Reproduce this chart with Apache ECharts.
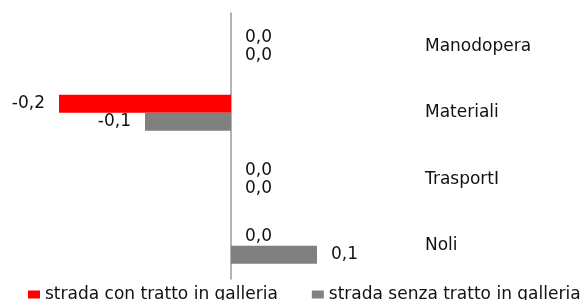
<!DOCTYPE html>
<html>
<head>
<meta charset="utf-8">
<script src="https://cdn.jsdelivr.net/npm/echarts@6/dist/echarts.min.js"></script>
<style>
  html, body { margin: 0; padding: 0; background: #fff; }
  #chart { width: 583px; height: 300px; }
</style>
</head>
<body>
<div id="chart"></div>
<script>
// categorie (dall'alto verso il basso)
const categories = ['Manodopera', 'Materiali', 'TrasportI', 'Noli'];
const seriesNames = ['strada con tratto in galleria', 'strada senza tratto in galleria'];
const conGalleria = [0.0, -0.2, 0.0, 0.0];
const senzaGalleria = [0.0, -0.1, 0.0, 0.1];

const FONT = 'DejaVu Sans';

// etichette a sinistra per i valori negativi
function toData(values) {
  return values.map(v => ({
    value: v,
    label: { position: v < 0 ? 'left' : 'right' }
  }));
}

function fmt(p) {
  return p.value.toFixed(1).replace('.', ',');
}

const chart = echarts.init(document.getElementById('chart'));

chart.setOption({
  animation: false,
  textStyle: { fontFamily: FONT },
  grid: { left: 59, right: 180, top: 13, height: 266, containLabel: false },
  legend: {
    data: seriesNames,
    orient: 'horizontal',
    left: 28,
    top: 286,
    width: 700,
    padding: 0,
    itemWidth: 12,
    itemHeight: 8,
    itemGap: 34,
    icon: 'rect',
    textStyle: { fontFamily: FONT, fontSize: 17, color: '#111' }
  },
  xAxis: {
    type: 'value',
    min: -0.2,
    max: 0.2,
    axisLine: { show: false },
    axisTick: { show: false },
    axisLabel: { show: false },
    splitLine: { show: false }
  },
  yAxis: [
    {
      type: 'category',
      data: categories,
      inverse: true,
      axisLine: { show: true, onZero: true, lineStyle: { color: '#9a9a9a', width: 1.5 } },
      axisTick: { show: false },
      axisLabel: { show: false }
    },
    {
      type: 'category',
      data: categories,
      inverse: true,
      position: 'right',
      axisLine: { show: false, onZero: false },
      axisTick: { show: false },
      axisLabel: { margin: 22, fontFamily: FONT, fontSize: 17, color: '#111', align: 'left' }
    }
  ],
  series: [
    {
      name: seriesNames[0],
      type: 'bar',
      yAxisIndex: 0,
      data: toData(conGalleria),
      barWidth: 18,
      barGap: '0%',
      itemStyle: { color: '#ff0000' },
      label: { show: true, distance: 14, fontFamily: FONT, fontSize: 17, color: '#111', formatter: fmt }
    },
    {
      name: seriesNames[1],
      type: 'bar',
      yAxisIndex: 0,
      data: toData(senzaGalleria),
      barWidth: 18,
      barGap: '0%',
      itemStyle: { color: '#808080' },
      label: { show: true, distance: 14, fontFamily: FONT, fontSize: 17, color: '#111', formatter: fmt }
    }
  ]
});
</script>
</body>
</html>
